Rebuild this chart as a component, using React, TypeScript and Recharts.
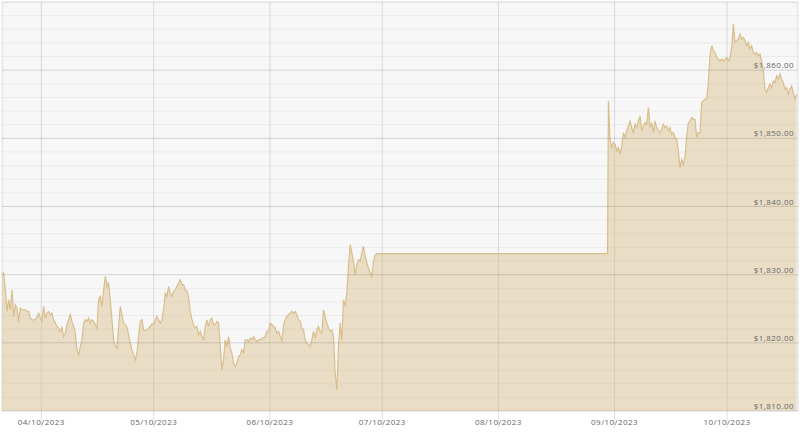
import { AreaChart, Area, XAxis, YAxis, CartesianGrid, ReferenceLine } from 'recharts';

// days counted from 04/10/2023
const tickDays = [0, 30, 61, 91, 122, 153, 183];
const tickLabels = ['04/10/2023', '05/10/2023', '06/10/2023', '07/10/2023', '08/10/2023', '09/10/2023', '10/10/2023'];

const majorTicks = [1810, 1820, 1830, 1840, 1850, 1860, 1870];
const minorTicks = [
  1812, 1814, 1816, 1818, 1822, 1824, 1826, 1828, 1832, 1834, 1836, 1838,
  1842, 1844, 1846, 1848, 1852, 1854, 1856, 1858, 1862, 1864, 1866, 1868,
];

// samples are ~10.7 hours apart
const sampleStep = 0.4446;

const springStart = -10.49;
const springPrices = [
  1830.0, 1830.25, 1827.79, 1824.61, 1826.32, 1824.85, 1827.79, 1823.87, 1825.59, 1825.1,
  1823.14, 1825.1, 1824.85, 1824.85, 1824.85, 1824.61, 1824.61, 1823.63, 1823.38, 1823.38,
  1823.48, 1823.77, 1824.36, 1823.63, 1823.14, 1825.34, 1823.63, 1824.36, 1824.61, 1824.12,
  1824.36, 1823.38, 1822.89, 1822.4, 1822.16, 1821.67, 1822.3, 1820.93, 1821.42, 1822.65,
  1823.38, 1824.12, 1823.14, 1822.4, 1821.42, 1818.97, 1818.24, 1819.46, 1820.44, 1822.89,
  1823.38, 1823.14, 1823.63, 1822.89, 1823.38, 1823.14, 1822.65, 1822.16, 1826.32, 1826.81,
  1825.34, 1827.79, 1829.75, 1828.28, 1828.77, 1826.32, 1823.38, 1820.44, 1819.46, 1819.22,
  1822.4, 1825.34, 1824.12, 1822.89, 1822.65, 1822.3, 1821.18, 1819.95, 1818.97, 1818.24,
  1817.5, 1818.48, 1820.93, 1823.14, 1823.38, 1821.91, 1821.81, 1821.91, 1822.16, 1822.4,
  1822.79, 1822.65, 1823.38, 1823.87, 1823.38, 1822.89, 1823.38, 1824.85, 1827.3, 1826.81,
  1828.28, 1827.3, 1826.81, 1827.55, 1827.79, 1828.28, 1828.77, 1829.26, 1828.53, 1828.53,
  1827.79, 1827.55, 1826.81, 1824.61, 1823.38, 1822.65, 1822.16, 1822.4, 1821.18, 1821.67,
  1820.93, 1820.44, 1822.4, 1823.38, 1822.4, 1823.38, 1823.63, 1822.65, 1822.65, 1823.14,
  1822.89, 1819.46, 1816.03, 1817.5, 1820.44, 1819.46, 1820.93, 1819.22, 1818.48, 1817.01,
  1816.52, 1817.01, 1817.99, 1818.24, 1818.97, 1818.48, 1820.44, 1820.44, 1820.2, 1820.69,
  1820.44, 1820.93, 1820.44, 1820.2, 1820.44, 1820.44, 1820.69, 1820.69, 1820.93, 1821.67,
  1821.67, 1822.89, 1822.65, 1822.4, 1822.16, 1821.42, 1821.67, 1820.93, 1820.2, 1822.65,
  1823.38, 1823.87, 1824.12, 1824.36, 1824.61, 1824.36, 1824.61, 1824.12, 1823.38, 1823.14,
  1822.16, 1821.91, 1820.44, 1819.95, 1819.71, 1819.46, 1820.44, 1821.67, 1820.69, 1821.91,
  1822.4, 1821.67, 1821.42, 1824.85, 1823.87, 1822.89, 1822.16, 1821.67, 1821.91, 1820.93,
  1815.54, 1813.09, 1819.46, 1822.89, 1820.44, 1826.32, 1825.34, 1827.3, 1831.23, 1834.41,
  1833.19, 1831.96, 1830.0, 1831.47, 1832.21, 1831.96, 1833.19, 1834.17, 1832.7, 1831.72,
  1830.98, 1830.25, 1829.75, 1831.96, 1832.94,
];

// no updates over the summer, price held flat
const flatDays = [89.63, 151.12];
const flatPrice = 1833.09;

const autumnStart = 151.35;
const autumnPrices = [
  1855.49, 1849.85, 1848.63, 1849.36, 1849.12, 1848.14, 1848.63, 1847.65, 1848.87, 1850.83,
  1850.1, 1851.08, 1851.81, 1852.55, 1851.57, 1850.83, 1852.06, 1851.57, 1852.55, 1853.28,
  1851.08, 1851.81, 1852.3, 1852.06, 1854.51, 1851.57, 1852.3, 1850.83, 1852.55, 1851.57,
  1851.08, 1850.83, 1851.32, 1852.06, 1851.57, 1851.81, 1851.08, 1851.57, 1850.59, 1850.83,
  1850.1, 1849.85, 1848.14, 1845.69, 1846.91, 1846.18, 1847.4, 1850.34, 1852.3, 1852.55,
  1853.04, 1852.79, 1852.79, 1850.1, 1850.83, 1850.83, 1855.25, 1855.49, 1855.74, 1855.74,
  1858.19, 1862.11, 1863.58, 1862.84, 1862.6, 1861.86, 1861.62, 1861.37, 1861.62, 1861.37,
  1861.62, 1861.86, 1861.37, 1861.86, 1863.33, 1866.76, 1864.07, 1864.31, 1864.56, 1865.29,
  1864.56, 1864.8, 1864.31, 1863.58, 1864.07, 1863.09, 1863.58, 1862.6, 1862.35, 1862.6,
  1862.11, 1862.35, 1861.37, 1859.9, 1857.21, 1856.72, 1857.45, 1857.94, 1857.45, 1858.43,
  1858.19, 1859.17, 1858.68, 1859.41, 1858.68, 1858.19, 1857.21, 1857.45, 1856.47, 1857.21,
  1857.7, 1856.72, 1855.74, 1856.47,
];

const chartData = [
  ...springPrices.map((price, i) => ({ day: springStart + i * sampleStep, price })),
  ...flatDays.map((day) => ({ day, price: flatPrice })),
  ...autumnPrices.map((price, i) => ({ day: autumnStart + i * sampleStep, price })),
];

const fontFamily = '"Open Sans", sans-serif';
const labelColor = '#666';

const DateTick = ({ x, y, payload }: any) => (
  <g>
    <line x1={x} y1={y} x2={x} y2={y + 17} stroke="#000" strokeOpacity={0.12} />
    <text
      x={x}
      y={y + 14}
      textAnchor="middle"
      fill={labelColor}
      fontSize={8}
      letterSpacing={0.45}
      fontFamily={fontFamily}
    >
      {tickLabels[tickDays.indexOf(payload.value)]}
    </text>
  </g>
);

const formatPrice = (v: number) => '$' + v.toLocaleString('en-US', { minimumFractionDigits: 2 });

// price label sits just above its gridline, at the right edge of the plot
const PriceLabel = ({ viewBox, value }: any) => {
  if (!viewBox || value == null) return null;
  return (
    <text
      x={viewBox.x + viewBox.width - 4}
      y={viewBox.y - 2}
      textAnchor="end"
      fill={labelColor}
      fontSize={8}
      letterSpacing={0.45}
      fontFamily={fontFamily}
    >
      {value}
    </text>
  );
};

// y axis only feeds the gridlines, labels come from the reference lines
const NoTick = () => <g />;

export default function App() {
  return (
    <div style={{ position: 'absolute', left: 0, top: 0, background: '#fff' }}>
      <AreaChart width={800} height={434} data={chartData} margin={{ top: 2, right: 2, left: 2, bottom: 0 }}>
        <CartesianGrid vertical={false} fill="#f7f7f7" stroke="#000" strokeOpacity={0.05} />
        <CartesianGrid horizontal={false} stroke="#000" strokeOpacity={0.12} />
        <XAxis
          dataKey="day"
          type="number"
          domain={[-10.49, 201.95]}
          ticks={tickDays}
          interval={0}
          height={23}
          axisLine={false}
          tickLine={false}
          tickSize={0}
          tickMargin={0}
          tick={<DateTick />}
        />
        <YAxis
          orientation="right"
          width={0}
          domain={[1810, 1870]}
          ticks={[...majorTicks, ...minorTicks].sort((a, b) => a - b)}
          interval={0}
          axisLine={false}
          tickLine={false}
          tick={<NoTick />}
        />
        {majorTicks.map((v) => (
          <ReferenceLine
            key={v}
            y={v}
            stroke="#000"
            strokeOpacity={0.1}
            label={<PriceLabel value={v < 1870 ? formatPrice(v) : null} />}
          />
        ))}
        <Area
          type="linear"
          dataKey="price"
          stroke="#d9be8c"
          strokeWidth={1.2}
          fill="#d8bd8a"
          fillOpacity={0.45}
          dot={false}
          activeDot={false}
          isAnimationActive={false}
        />
      </AreaChart>
    </div>
  );
}
